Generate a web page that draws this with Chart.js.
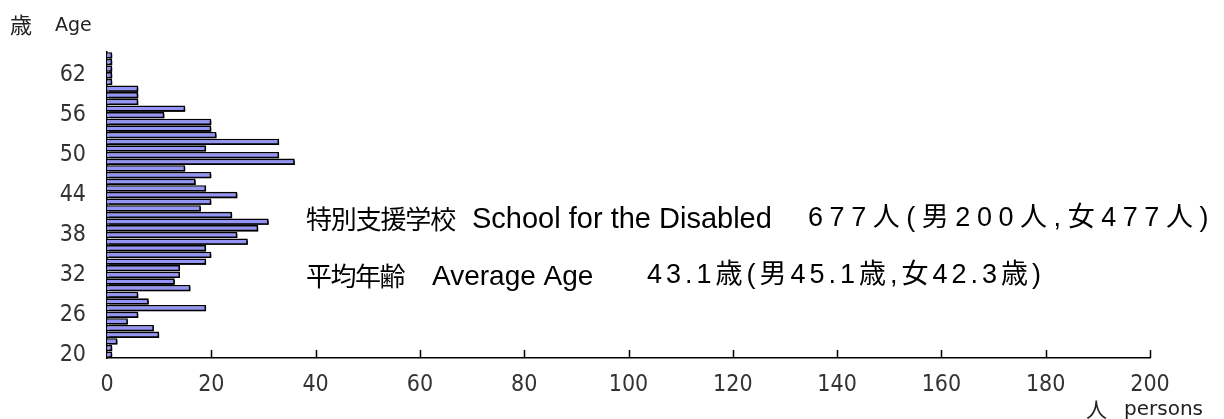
<!DOCTYPE html>
<html lang="ja">
<head>
  <meta charset="UTF-8">
  <title>年齢構成 特別支援学校</title>
  <script src="https://cdn.jsdelivr.net/npm/chart.js"></script>
  <style>
    html, body { margin: 0; padding: 0; background: #fff; }
    #wrap { width: 1224px; height: 419px; }
  </style>
</head>
<body>
  <div id="wrap"><canvas id="ageChart" width="1224" height="419"></canvas></div>

  <script>
    // 年齢 (歳)
    const ages = [20, 21, 22, 23, 24, 25, 26, 27, 28, 29,
                  30, 31, 32, 33, 34, 35, 36, 37, 38, 39,
                  40, 41, 42, 43, 44, 45, 46, 47, 48, 49,
                  50, 51, 52, 53, 54, 55, 56, 57, 58, 59,
                  60, 61, 62, 63, 64, 65];
    // 人数 (人)
    const persons = [1, 1, 2, 10, 9, 4, 6, 19, 8, 6,
                     16, 13, 14, 14, 19, 20, 19, 27, 25, 29,
                     31, 24, 18, 20, 25, 19, 17, 20, 15, 36,
                     33, 19, 33, 21, 20, 20, 11, 15, 6, 6,
                     6, 1, 1, 1, 1, 1];
    const xTicks = [0, 20, 40, 60, 80, 100, 120, 140, 160, 180, 200];

    const cjk = '"Noto Sans CJK JP", sans-serif';
    const mixed = '"Liberation Sans", "Noto Sans CJK JP", sans-serif';
    const tickFont = '"DejaVu Sans Condensed", "DejaVu Sans", sans-serif';

    // 文字を指定の幅に合わせて描く
    function fitText(c, text, x, y, w, font) {
      c.font = font;
      c.letterSpacing = '0px';
      const m = c.measureText(text).width;
      c.letterSpacing = ((w - m) / text.length).toFixed(2) + 'px';
      c.fillText(text, x, y);
      c.letterSpacing = '0px';
    }

    // 棒の影
    const shadowPlugin = {
      id: 'shadow',
      beforeDatasetsDraw(chart) {
        const c = chart.ctx;
        c.save();
        c.shadowColor = '#000';
        c.shadowOffsetX = 2;
        c.shadowOffsetY = 2;
        c.shadowBlur = 0;
      },
      afterDatasetsDraw(chart) {
        chart.ctx.restore();
      }
    };

    // 内向きの目盛りと文字
    const extras = {
      id: 'extras',
      afterDraw(chart) {
        const c = chart.ctx;
        const x = chart.scales.x;
        const area = chart.chartArea;
        c.save();
        c.strokeStyle = '#000';
        c.lineWidth = 1.5;
        xTicks.forEach(v => {
          if (v === 0) return;
          const px = Math.round(x.getPixelForValue(v)) + 0.5;
          c.beginPath();
          c.moveTo(px, area.bottom);
          c.lineTo(px, area.bottom - 8);
          c.stroke();
        });

        c.fillStyle = '#222';
        c.textBaseline = 'middle';
        c.font = '22px ' + cjk;
        c.fillText('歳', 10, 25);
        c.font = '19px "DejaVu Sans", sans-serif';
        c.fillText('Age', 55, 26);
        c.font = '21px ' + cjk;
        c.fillText('人', 1086, 409);
        c.font = '20px "DejaVu Sans", sans-serif';
        c.fillText('persons', 1124, 410);

        c.fillStyle = '#000';
        fitText(c, '特別支援学校', 306, 219, 149, '26px ' + cjk);
        c.font = '29px ' + mixed;
        c.fillText('School for the Disabled', 472, 220);
        fitText(c, '677人(男200人,女477人)', 808, 219, 407, '27px ' + mixed);

        fitText(c, '平均年齢', 306, 276, 98, '26px ' + cjk);
        c.font = '28px ' + mixed;
        c.fillText('Average Age', 432, 277);
        fitText(c, '43.1歳(男45.1歳,女42.3歳)', 647, 276, 398, '27px ' + mixed);
        c.restore();
      }
    };

    new Chart(document.getElementById('ageChart'), {
      type: 'bar',
      data: {
        labels: ages,
        datasets: [{
          data: persons,
          backgroundColor: '#9494f4',
          borderColor: '#000',
          borderWidth: 1.6,
          borderSkipped: 'left',
          barPercentage: 0.95,
          categoryPercentage: 1.0
        }]
      },
      options: {
        indexAxis: 'y',
        responsive: false,
        animation: false,
        layout: { padding: { left: 0, right: 74, top: 52, bottom: 0 } },
        plugins: {
          legend: { display: false },
          tooltip: { enabled: false }
        },
        scales: {
          x: {
            type: 'linear',
            min: 0,
            max: 200,
            afterBuildTicks(scale) {
              scale.ticks = xTicks.map(v => ({ value: v }));
            },
            afterFit(scale) { scale.height = 61; },
            grid: { display: false, drawTicks: false },
            border: { display: true, color: '#000', width: 1.5 },
            ticks: {
              color: '#333',
              padding: 13,
              font: { family: tickFont, size: 23 }
            }
          },
          y: {
            reverse: true,
            afterFit(scale) { scale.width = 107; },
            grid: { display: false, drawTicks: false },
            border: { display: true, color: '#000', width: 1.5 },
            ticks: {
              autoSkip: false,
              color: '#333',
              padding: 21,
              font: { family: tickFont, size: 23 },
              callback(value, index) {
                const a = ages[index];
                return (a - 20) % 6 === 0 ? String(a) : '';
              }
            }
          }
        }
      },
      plugins: [shadowPlugin, extras]
    });
  </script>
</body>
</html>
